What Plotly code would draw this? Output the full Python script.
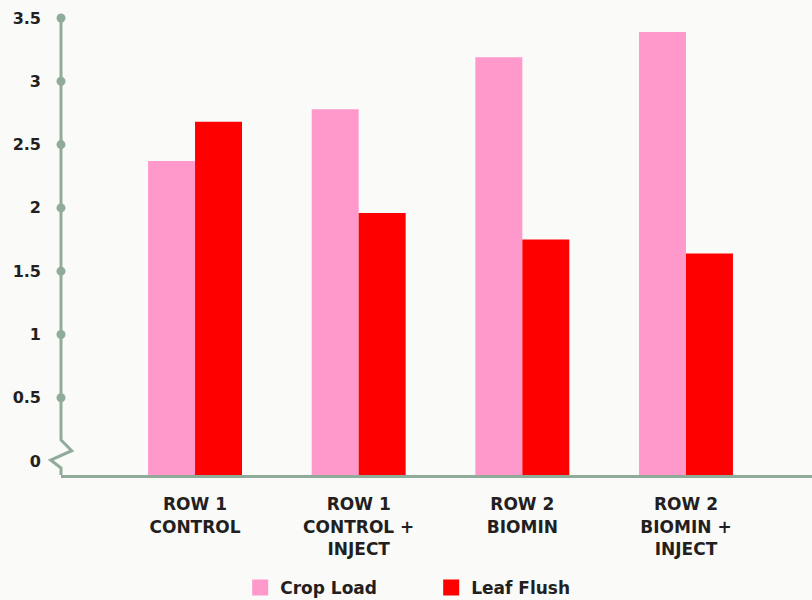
import plotly.graph_objects as go

categories = ["ROW 1<br>CONTROL", "ROW 1<br>CONTROL +<br>INJECT", "ROW 2<br>BIOMIN", "ROW 2<br>BIOMIN +<br>INJECT"]
crop_load = [2.37, 2.78, 3.19, 3.39]
leaf_flush = [2.68, 1.96, 1.75, 1.64]
series_names = ["Crop Load", "Leaf Flush"]
series_colors = ["#ff99cc", "#ff0000"]
y_tickvals = [0, 0.5, 1, 1.5, 2, 2.5, 3, 3.5]
y_ticktext = ["0", "0.5", "1", "1.5", "2", "2.5", "3", "3.5"]

AXIS_FLOOR = -0.11
Y_TOP = 3.5
AXIS_COLOR = "#91ab9a"
TEXT_COLOR = "#231f20"
BG = "#fafaf8"
FONT = "DejaVu Sans"

fig = go.Figure()
for name, vals, col in zip(series_names, [crop_load, leaf_flush], series_colors):
    fig.add_trace(go.Bar(
        x=categories, y=[v - AXIS_FLOOR for v in vals], base=AXIS_FLOOR,
        name=name, marker=dict(color=col, line=dict(width=0)), showlegend=False,
        customdata=vals, hovertemplate="%{x}<br>" + name + ": %{customdata}<extra></extra>",
    ))
    # legend entry
    fig.add_trace(go.Scatter(
        x=[None], y=[None], mode="markers", name=name,
        marker=dict(symbol="square", size=16, color=col, line=dict(width=0)),
    ))

span = Y_TOP - AXIS_FLOOR
shapes = []
# y-axis line with break zigzag (paper coordinates)
shapes.append(dict(
    type="path", xref="paper", yref="paper",
    path="M0,1 L0,0.0766 L0.01425,0.0532 L-0.01372,0.0328 L0,0.0153 L0,0",
    line=dict(color=AXIS_COLOR, width=3), layer="above",
))
for v in y_tickvals[1:]:
    py = (v - AXIS_FLOOR) / span
    shapes.append(dict(
        type="circle", xref="paper", yref="paper",
        xsizemode="pixel", ysizemode="pixel", xanchor=0, yanchor=py,
        x0=-4.5, x1=4.5, y0=-4.5, y1=4.5,
        fillcolor=AXIS_COLOR, line=dict(width=0), layer="above",
    ))

fig.update_layout(
    width=812, height=600,
    margin=dict(l=61, r=0, t=18, b=125),
    paper_bgcolor=BG, plot_bgcolor=BG,
    barmode="group", bargap=0.426, bargroupgap=0,
    font=dict(family=FONT, color=TEXT_COLOR),
    shapes=shapes,
    xaxis=dict(
        range=[-0.819, 3.77], showgrid=False, zeroline=False,
        showline=True, linecolor=AXIS_COLOR, linewidth=3,
        ticks="", ticklabelstandoff=12,
        tickfont=dict(family=FONT, size=17, color=TEXT_COLOR, weight="bold"),
        fixedrange=True,
    ),
    yaxis=dict(
        range=[AXIS_FLOOR, Y_TOP], showgrid=False, zeroline=False, showline=False,
        tickvals=y_tickvals, ticktext=y_ticktext, ticks="",
        ticklabelstandoff=19,
        tickfont=dict(family=FONT, size=16, color=TEXT_COLOR, weight="bold"),
        fixedrange=True,
    ),
    legend=dict(
        orientation="h", xref="container", yref="container",
        x=0.531, xanchor="center", y=0.02, yanchor="middle",
        font=dict(family=FONT, size=17, color=TEXT_COLOR, weight="bold"),
        bgcolor="rgba(0,0,0,0)", entrywidth=146, entrywidthmode="pixels",
    ),
)

fig.write_html("out.html")
